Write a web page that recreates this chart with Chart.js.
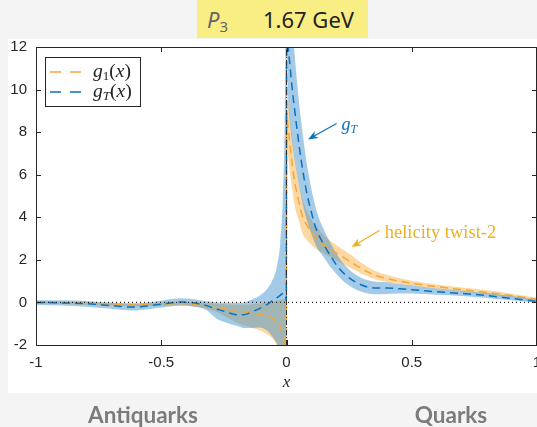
<!DOCTYPE html>
<html><head><meta charset="utf-8">
<script src="https://cdn.jsdelivr.net/npm/chart.js@4.4.0/dist/chart.umd.min.js"></script>
<style>
html,body{margin:0;padding:0}
body{width:537px;height:427px;background:#f4f4f4;position:relative;overflow:hidden;font-family:"Liberation Sans",Arial,sans-serif}
#panel{position:absolute;left:8px;top:39px;width:529px;height:354px;background:#fff}
#title{position:absolute;left:197px;top:0;width:171px;height:38px;background:#f9ee84}
#title .p{position:absolute;left:10px;top:4px;font-family:"Noto Sans",sans-serif;font-style:italic;color:#666;font-size:22px}
#title .p sub{font-style:normal;font-size:15px;vertical-align:-4px}
#title .v{position:absolute;left:66px;top:4px;font-family:"Noto Sans",sans-serif;color:#222;font-size:22px}
#cv{position:absolute;left:0;top:0}
.bl{position:absolute;top:401px;font-family:Lato,sans-serif;font-weight:bold;color:#7b7b7b;font-size:22.5px;transform:translateX(-50%);white-space:nowrap}
</style></head>
<body>
<div id="panel"></div>
<div id="title"><span class="p">P<sub>3</sub></span><span class="v">1.67 GeV</span></div>
<canvas id="cv" width="537" height="427"></canvas>
<div class="bl" style="left:143px">Antiquarks</div>
<div class="bl" style="left:451px">Quarks</div>
<script>
const xs = [-1,-0.9,-0.8,-0.7,-0.62,-0.55,-0.48,-0.42,-0.37,-0.32,-0.28,-0.24,-0.2,-0.17,-0.14,-0.11,-0.08,-0.06,-0.04,-0.025,-0.015,-0.008,-0.003,-0.001,
            0.001,0.005,0.015,0.025,0.035,0.05,0.065,0.08,0.1,0.12,0.15,0.18,0.21,0.25,0.3,0.35,0.4,0.45,0.5,0.6,0.7,0.8,0.9,1.0];
const g1 = [0,-0.02,-0.05,-0.08,-0.1,-0.09,-0.07,-0.05,-0.08,-0.15,-0.22,-0.32,-0.42,-0.47,-0.51,-0.54,-0.6,-0.7,-0.9,-1.15,-1.5,-1.85,-2.2,-2.5,
            9.0,8.4,7.3,6.3,5.5,4.7,4.0,3.65,3.3,3.0,2.7,2.45,2.25,1.95,1.58,1.3,1.12,1.0,0.9,0.74,0.6,0.47,0.32,0.15];
const g1Lo = [-0.05,-0.07,-0.11,-0.15,-0.18,-0.17,-0.15,-0.14,-0.18,-0.3,-0.45,-0.7,-0.95,-1.08,-1.18,-1.3,-1.48,-1.65,-2.0,-2.5,-3.0,-3.5,-4.0,-4.5,
            7.6,7.0,6.0,5.1,4.4,3.8,3.2,2.95,2.7,2.5,2.3,2.1,1.9,1.65,1.35,1.1,0.96,0.86,0.78,0.64,0.5,0.38,0.24,0.08];
const g1Hi = [0.05,0.03,0.01,-0.01,-0.03,-0.02,0.0,0.03,0.01,-0.03,-0.06,-0.08,-0.1,-0.1,-0.08,-0.05,0.0,0.03,0.08,0.12,0.15,0.18,0.2,0.2,
            10.4,9.8,8.6,7.5,6.6,5.6,4.8,4.35,3.9,3.55,3.15,2.85,2.6,2.3,1.85,1.5,1.3,1.15,1.02,0.84,0.7,0.57,0.41,0.22];
const gT = [0,-0.02,-0.06,-0.15,-0.22,-0.16,-0.05,0.02,-0.02,-0.15,-0.3,-0.45,-0.58,-0.58,-0.45,-0.3,-0.12,0.05,0.2,0.33,0.42,0.4,0.25,0.1,
            14,12.5,11,9.8,8.8,7.4,6.2,5.2,4.2,3.4,2.7,2.1,1.6,1.15,0.82,0.68,0.68,0.64,0.6,0.5,0.42,0.32,0.19,0.05];
const gTLo = [-0.12,-0.15,-0.2,-0.3,-0.38,-0.32,-0.22,-0.15,-0.2,-0.35,-0.75,-0.95,-1.1,-1.2,-1.2,-1.18,-1.3,-1.55,-1.9,-2.4,-3.0,-4.0,-5.0,-5.0,
            12,10,8.3,7.3,6.5,5.5,4.6,3.9,3.2,2.6,2.1,1.6,1.2,0.8,0.5,0.38,0.4,0.42,0.42,0.36,0.3,0.21,0.1,-0.02];
const gTHi = [0.1,0.1,0.07,-0.02,-0.06,0.0,0.13,0.2,0.15,0.05,0.0,-0.02,-0.02,0.0,0.12,0.3,0.6,0.95,1.6,2.8,4.8,8.0,13.0,16.0,
            16,15,14,12.8,11.3,9.4,7.9,6.6,5.3,4.3,3.4,2.7,2.1,1.55,1.15,0.98,0.95,0.86,0.8,0.66,0.55,0.44,0.3,0.12];
const xTicks = [-1,-0.5,0,0.5,1];
const yTicks = [-2,0,2,4,6,8,10,12];

const ORANGE = '#F0A83A', BLUE = '#0B72BC';
const pts = arr => arr.map((v,i)=>({x:xs[i], y:v}));
const bandBase = {pointRadius:0, borderWidth:0, cubicInterpolationMode:'monotone'};

const deco = {
  id:'deco',
  afterDatasetsDraw(chart){
    const ctx = chart.ctx, a = chart.chartArea, sx = chart.scales.x, sy = chart.scales.y;
    ctx.save();
    ctx.strokeStyle = '#262626'; ctx.lineWidth = 1; ctx.setLineDash([]);
    ctx.strokeRect(a.left+0.5, a.top+0.5, a.right-a.left-1, a.bottom-a.top);
    ctx.beginPath();
    xTicks.forEach(v=>{const p=Math.round(sx.getPixelForValue(v))+0.5;
      ctx.moveTo(p,a.bottom); ctx.lineTo(p,a.bottom-5); ctx.moveTo(p,a.top); ctx.lineTo(p,a.top+5);});
    yTicks.forEach(v=>{const p=Math.round(sy.getPixelForValue(v))+0.5;
      ctx.moveTo(a.left,p); ctx.lineTo(a.left+5,p); ctx.moveTo(a.right,p); ctx.lineTo(a.right-5,p);});
    ctx.stroke();
    // legend
    ctx.fillStyle='#fff'; ctx.fillRect(46,58,94,48);
    ctx.strokeStyle='#262626'; ctx.strokeRect(45.5,57.5,95,49);
    ctx.lineWidth=1.5; ctx.setLineDash([11,9]);
    ctx.strokeStyle=ORANGE; ctx.beginPath(); ctx.moveTo(50,72); ctx.lineTo(84,72); ctx.stroke();
    ctx.strokeStyle=BLUE; ctx.beginPath(); ctx.moveTo(50,92); ctx.lineTo(84,92); ctx.stroke();
    ctx.setLineDash([]);
    const runs = (x,y,list,color)=>{ctx.fillStyle=color; ctx.textBaseline='alphabetic'; ctx.textAlign='left';
      list.forEach(r=>{ctx.font=r[1]; ctx.fillText(r[0],x,y+(r[2]||0)); x+=ctx.measureText(r[0]).width;});};
    const I='italic 19.5px "Liberation Serif"', R='19.5px "Liberation Serif"', SI='italic 13px "Liberation Serif"', SR='13px "Liberation Serif"';
    runs(93,77,[['g',I],['1',SR,3],['(',R],['x',I],[')',R]],'#222');
    runs(93,97,[['g',I],['T',SI,3],['(',R],['x',I],[')',R]],'#222');
    // annotations
    const arrow=(x0,y0,x1,y1,col)=>{
      const X0=sx.getPixelForValue(x0),Y0=sy.getPixelForValue(y0),X1=sx.getPixelForValue(x1),Y1=sy.getPixelForValue(y1);
      const ang=Math.atan2(Y1-Y0,X1-X0);
      ctx.strokeStyle=col; ctx.fillStyle=col; ctx.lineWidth=1.2;
      ctx.beginPath(); ctx.moveTo(X0,Y0); ctx.lineTo(X1-6*Math.cos(ang),Y1-6*Math.sin(ang)); ctx.stroke();
      ctx.beginPath(); ctx.moveTo(X1,Y1);
      ctx.lineTo(X1-10*Math.cos(ang)+4*Math.sin(ang), Y1-10*Math.sin(ang)-4*Math.cos(ang));
      ctx.lineTo(X1-7*Math.cos(ang), Y1-7*Math.sin(ang));
      ctx.lineTo(X1-10*Math.cos(ang)-4*Math.sin(ang), Y1-10*Math.sin(ang)+4*Math.cos(ang));
      ctx.closePath(); ctx.fill();
    };
    arrow(0.20,8.41,0.086,7.66,BLUE);
    arrow(0.3725,3.39,0.26,2.6,'#EDB120');
    runs(sx.getPixelForValue(0.22), sy.getPixelForValue(8.1), [['g','italic 18px "Liberation Serif"'],['T','italic 12px "Liberation Serif"',3]], BLUE);
    runs(sx.getPixelForValue(0.392), sy.getPixelForValue(3.05), [['helicity twist-2','18.5px "Liberation Serif"']], '#EDB120');
    ctx.restore();
  }
};

new Chart(document.getElementById('cv'), {
  type:'line',
  data:{datasets:[
    Object.assign({label:'g1 lo', data:pts(g1Lo), fill:false, order:6}, bandBase),
    Object.assign({label:'g1 hi', data:pts(g1Hi), fill:0, backgroundColor:'rgba(252,168,50,0.45)', order:6}, bandBase),
    Object.assign({label:'gT lo', data:pts(gTLo), fill:false, order:5}, bandBase),
    Object.assign({label:'gT hi', data:pts(gTHi), fill:2, backgroundColor:'rgba(50,140,205,0.45)', order:5}, bandBase),
    {label:'g1', data:pts(g1), borderColor:ORANGE, borderWidth:1.5, borderDash:[8,5], pointRadius:0, fill:false, cubicInterpolationMode:'monotone', order:3},
    {label:'gT', data:pts(gT), borderColor:BLUE, borderWidth:1.5, borderDash:[8,5], pointRadius:0, fill:false, cubicInterpolationMode:'monotone', order:2},
    {label:'zero', data:[{x:-1,y:0},{x:1,y:0}], borderColor:'#222', borderWidth:1.2, borderDash:[1,3], pointRadius:0, fill:false, order:1},
    {label:'x0', data:[{x:0,y:-2},{x:0,y:12}], borderColor:'#333', borderWidth:1, borderDash:[5,2,1,2], pointRadius:0, fill:false, order:0}
  ]},
  options:{
    responsive:false, animation:false, devicePixelRatio:1, events:[],
    layout:{padding:{top:47,left:0,right:0,bottom:0}},
    plugins:{legend:{display:false}, tooltip:{enabled:false}},
    scales:{
      x:{type:'linear', min:-1, max:1,
        grid:{display:false, drawTicks:false}, border:{display:false},
        ticks:{font:{family:'"Liberation Sans"', size:15}, color:'#262626', padding:9, maxRotation:0, autoSkip:false, callback:v=>String(v)},
        afterBuildTicks:s=>{s.ticks=xTicks.map(v=>({value:v}));},
        afterFit:s=>{s.height=82; s.paddingLeft=0; s.paddingRight=0;},
        title:{display:true, text:'x', color:'#262626', font:{family:'"Liberation Serif"', style:'italic', size:17}, padding:{top:0,bottom:34}}
      },
      y:{type:'linear', min:-2, max:12,
        grid:{display:false, drawTicks:false}, border:{display:false},
        ticks:{font:{family:'"Liberation Sans"', size:15}, color:'#262626', padding:9, autoSkip:false, callback:v=>String(v)},
        afterBuildTicks:s=>{s.ticks=yTicks.map(v=>({value:v}));},
        afterFit:s=>{s.width=36; s.paddingTop=0; s.paddingBottom=0;}
      }
    }
  },
  plugins:[deco]
});
</script>
</body></html>
